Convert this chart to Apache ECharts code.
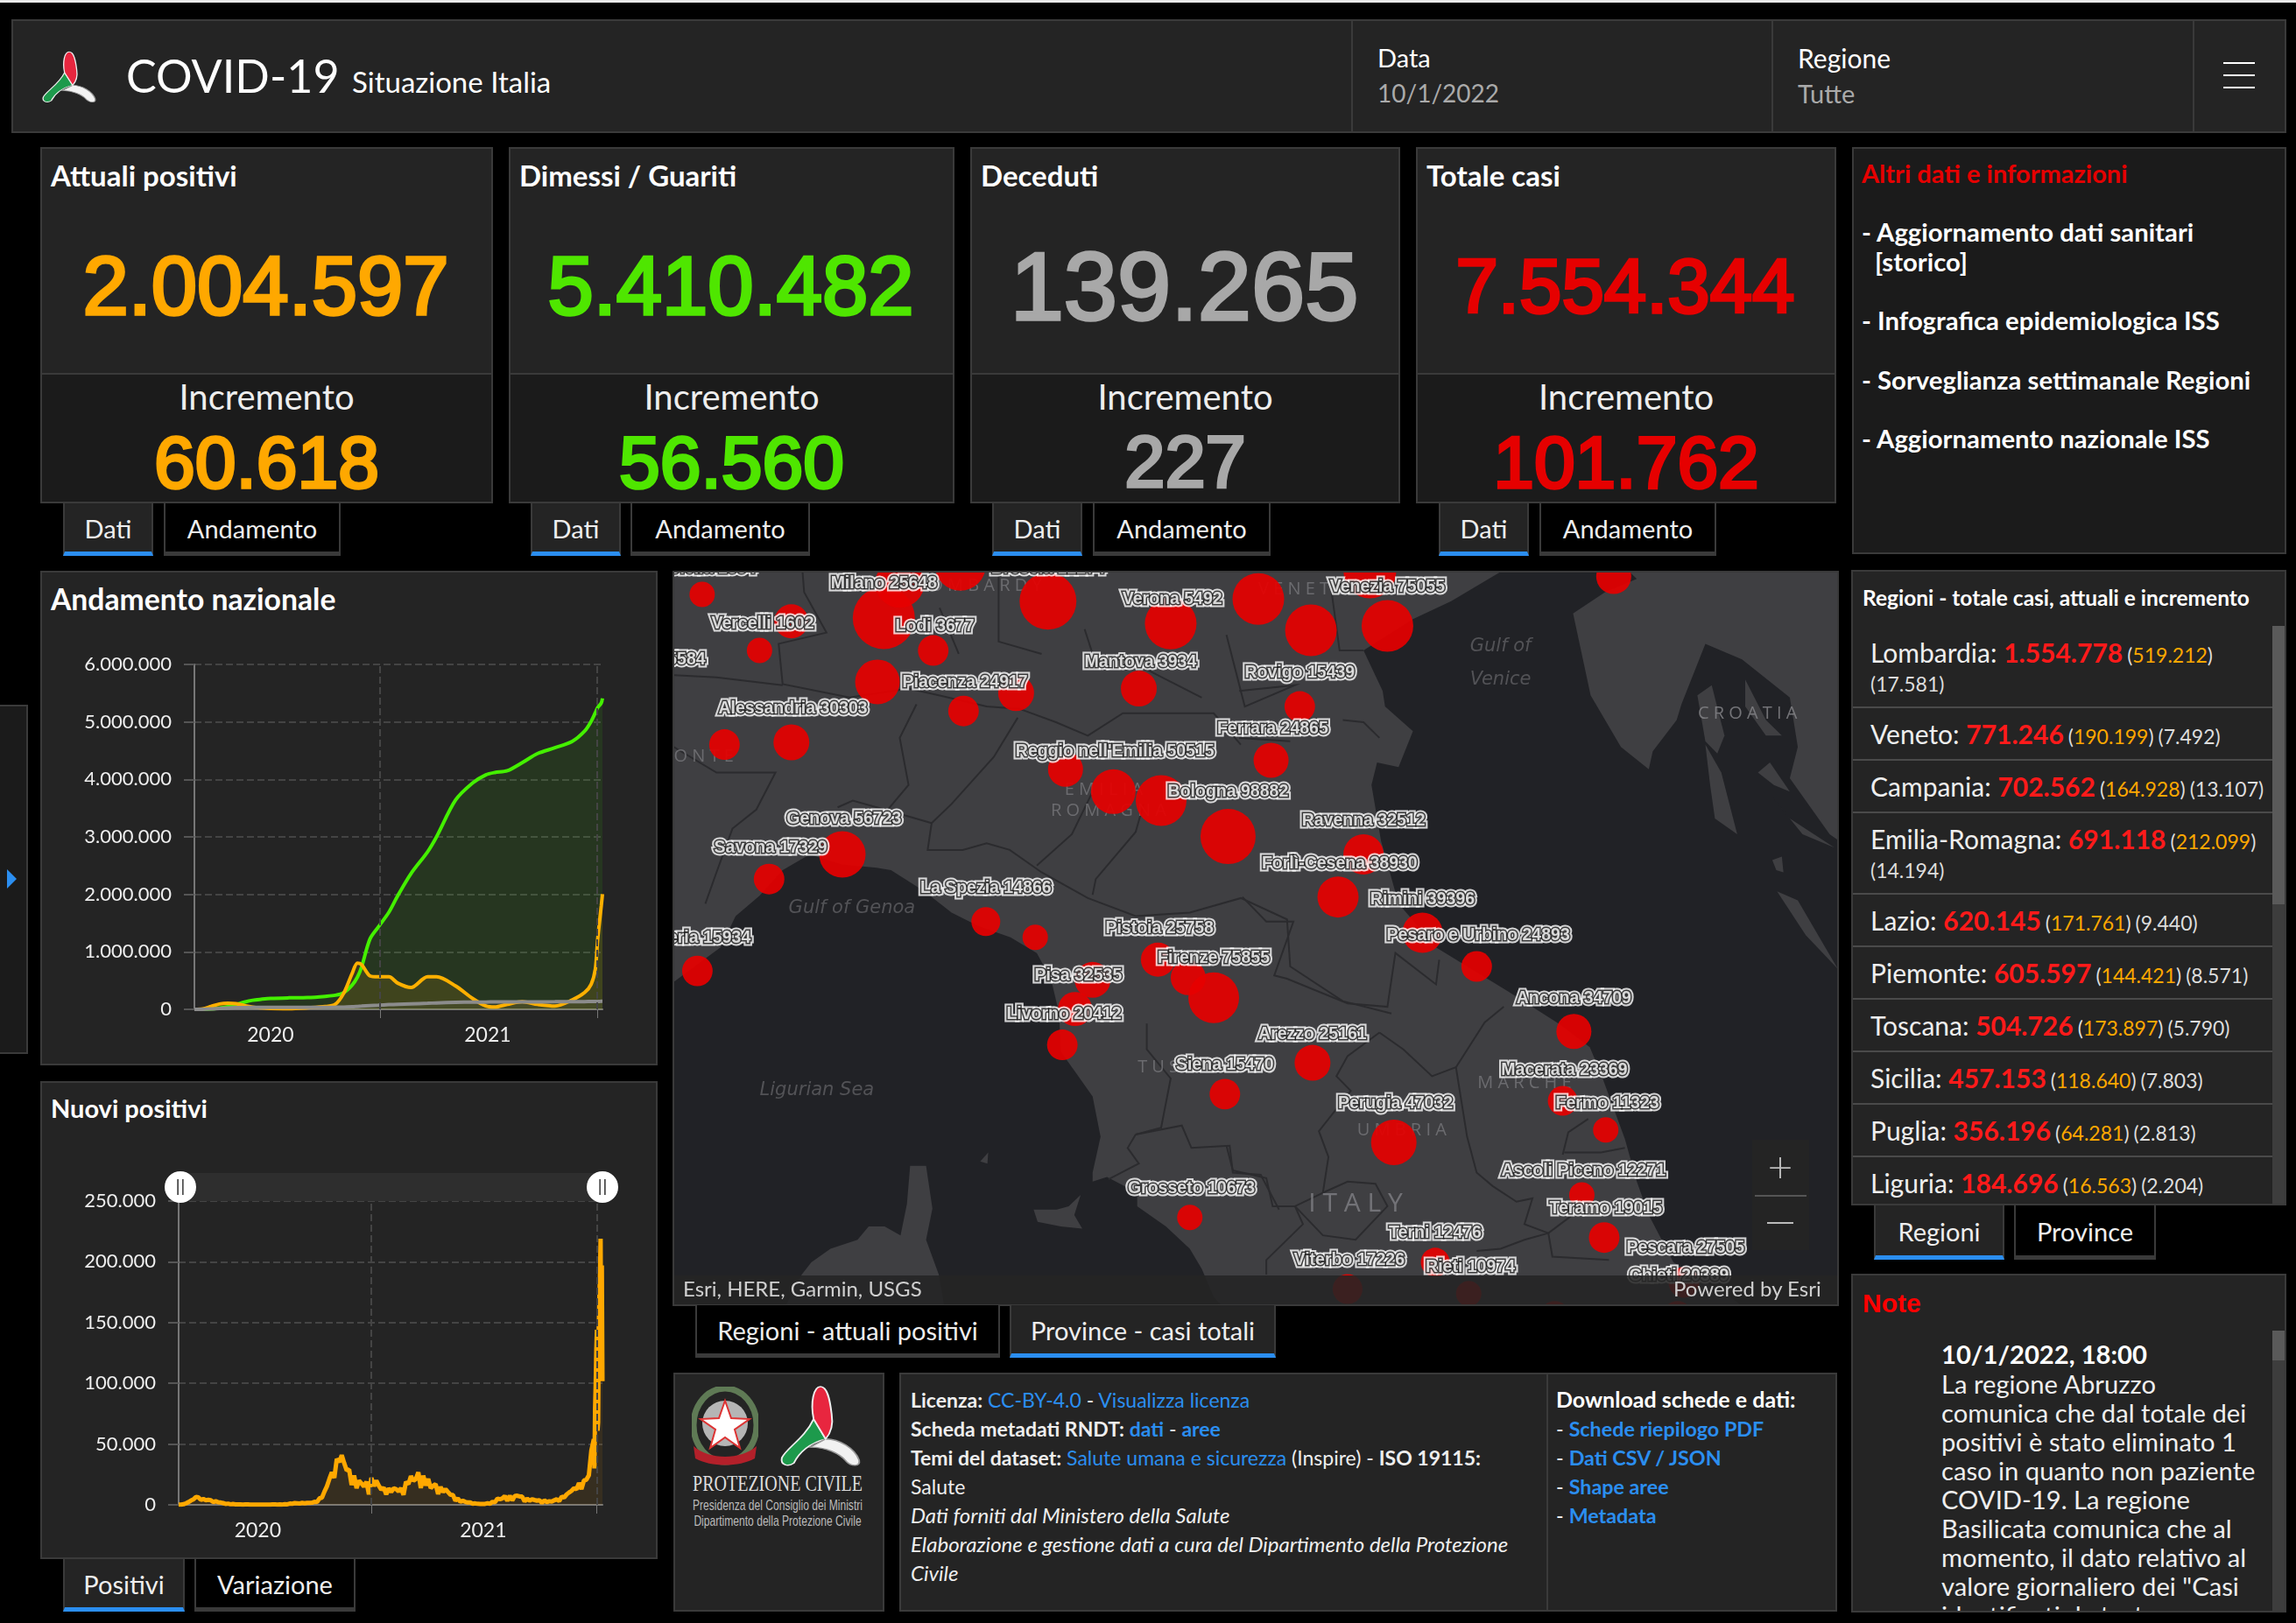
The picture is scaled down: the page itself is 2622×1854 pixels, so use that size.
<!DOCTYPE html>
<html>
<head>
<meta charset="utf-8">
<title>COVID-19 Situazione Italia</title>
<script src="https://cdn.jsdelivr.net/npm/echarts@6/dist/echarts.min.js"></script>
<style>
html, body { margin: 0; background: #000; width: 2622px; height: 1854px; overflow: hidden; font-family: Lato, "Open Sans", sans-serif; color: #fff; }
.box { position: absolute; box-sizing: border-box; background: #242424; border: 2px solid #3a3a3a; }
.dark { background: #1b1b1b; }
.t { position: absolute; white-space: nowrap; }
.chart { position: absolute; }
a { color: #2b8ef0; text-decoration: none; }
</style>
</head>
<body>
<script>
// --- trend charts ---
var trendDates = ['2020-02-24','2020-03-09','2020-03-23','2020-04-06','2020-04-20','2020-05-04','2020-05-18','2020-06-01','2020-06-15','2020-07-01','2020-08-01','2020-09-01','2020-10-01','2020-10-18','2020-11-01','2020-11-15','2020-11-24','2020-12-01','2020-12-15','2020-12-29','2021-01-16','2021-01-31','2021-02-22','2021-03-22','2021-04-06','2021-05-08','2021-06-06','2021-06-28','2021-07-13','2021-08-03','2021-08-28','2021-09-23','2021-10-22','2021-11-20','2021-12-11','2021-12-22','2021-12-29','2022-01-02','2022-01-08','2022-01-10'];
var guariti = [0,700,7400,24000,47000,82000,125000,158000,175000,190000,200000,205000,226000,245000,290000,420000,560000,733000,1220000,1430000,1690000,1980000,2360000,2740000,3000000,3640000,3940000,4080000,4120000,4150000,4290000,4450000,4550000,4660000,4840000,5010000,5160000,5250000,5330000,5410482];
var attualiPositivi = [200,7900,50000,93000,108000,99000,66000,40000,26000,15000,12500,26000,48000,90000,280000,620000,805000,780000,583000,566000,566000,455000,379000,566000,566000,408000,187000,58000,40000,87000,134000,87000,58000,163000,292000,437000,700000,1220000,1800000,2004597];
var deceduti = [0,460,6000,16500,24000,29000,32000,33500,34400,34800,35100,35500,36000,36400,38700,45000,51000,56000,66000,73000,82000,88000,96000,105000,112000,123000,127000,127500,127900,128300,129000,130500,131600,133000,135000,136500,137200,138000,139000,139265];
var newStart = '2020-02-24';
var newValues = [221,250,466,1247,2313,3590,4480,6557,6153,4053,4805,3836,4092,3786,2256,3021,2091,1900,1444,802,992,451,652,397,416,321,197,379,338,251,190,175,187,192,229,114,233,130,275,289,239,401,259,574,403,1071,878,1444,1326,1108,1597,1229,1638,1640,1766,2548,2257,5372,5901,10925,15199,21273,26831,22253,37809,35098,40902,34283,28337,29003,16377,24099,13720,19903,17572,15104,19037,8585,22211,15378,19978,15774,12545,14078,8561,13574,10593,13659,12956,11068,13762,8261,18887,17083,23641,19749,21315,26824,13846,23987,16017,21261,13708,15746,16974,8864,14761,10404,12965,10585,8292,8085,3455,5218,2490,3351,2483,1894,1896,907,1197,835,794,776,808,1394,888,2455,2072,5143,4522,5321,7230,3361,7409,3663,7162,7548,6857,6761,2800,5193,3300,4552,3970,3411,3804,1612,3677,2278,2983,2697,3725,4598,3000,6764,6000,8544,10172,11555,13764,12764,17959,13000,20000,20677,24259,44595];
var lateDates = ['2021-12-27','2021-12-28','2021-12-29','2021-12-30','2021-12-31','2022-01-01','2022-01-02','2022-01-03','2022-01-04','2022-01-05','2022-01-06','2022-01-07','2022-01-08','2022-01-09','2022-01-10'];
var lateValues = [54000,30000,78000,98000,126000,144000,61000,68000,145000,170000,189000,219000,108000,197000,101762];

// --- map: bubbles are lon / lat / cases estimated from the circle area ---
var bubbleLon = [8.05,8.61,8.41,9.19,9.29,9.67,10.22,10.99,11.54,9.50,9.15,10.02,9.69,10.79,8.19,8.61,10.33,10.63,10.93,11.35,11.62,8.93,8.47,9.83,10.14,8.02,10.91,11.10,11.26,10.50,10.39,10.31,11.87,12.35,12.24,13.77,11.80,12.20,12.04,12.57,12.91,13.52,11.88,12.39,13.45,13.72,13.57,13.71,12.65,14.21,12.10,12.86,13.40,14.17,11.33,11.11];
var bubbleLat = [45.57,45.45,45.32,45.465,45.62,45.70,45.54,45.44,45.55,45.32,45.18,45.13,45.05,45.15,44.90,44.91,44.79,44.69,44.65,44.49,44.83,44.41,44.30,44.11,44.04,43.89,43.94,43.86,43.77,43.85,43.72,43.56,45.41,45.43,45.67,45.65,45.07,44.41,44.22,44.06,43.91,43.62,43.48,43.125,43.31,43.18,42.89,42.70,42.59,42.50,42.47,42.45,42.35,42.35,43.34,42.79];
var bubbleCases = [84000,152000,84000,504000,313000,336000,422000,348000,348000,122000,260000,168000,122000,168000,122000,168000,160000,260000,336000,397000,160000,281000,122000,109000,84000,122000,152000,160000,336000,168000,152000,122000,348000,348000,360000,160000,122000,212000,221000,212000,122000,160000,168000,270000,116000,84000,84000,122000,109000,122000,116000,84000,116000,116000,122000,84000];
var labelNames = ['Biella','Brescia','Milano','Verona','Vercelli','Lodi','Novara','Mantova','Piacenza','Alessandria','Reggio nell\'Emilia','Bologna','Ferrara','Genova','Savona','La Spezia','Imperia','Pistoia','Firenze','Pisa','Livorno','Venezia','Rovigo','Ravenna','Forlì-Cesena','Rimini','Pesaro e Urbino','Ancona','Arezzo','Macerata','Fermo','Perugia','Ascoli Piceno','Teramo','Terni','Viterbo','Rieti','Pescara','Chieti','Siena','Grosseto'];
var labelValues = [1354,12274,25648,5492,1602,3677,5584,3934,24917,30303,50515,98882,24865,56723,17329,14866,15934,25758,75855,32535,20412,75055,15439,32512,38930,39396,24893,34709,25161,23369,11323,47032,12271,19015,12476,17226,10974,27505,20389,15470,10673];
var labelLon = [8.11,10.22,9.19,11.00,8.43,9.51,7.755,10.80,9.70,8.62,10.64,11.35,11.63,8.94,8.48,9.83,8.00,10.92,11.26,10.41,10.32,12.35,11.80,12.20,12.05,12.57,12.92,13.52,11.88,13.46,13.73,12.40,13.58,13.72,12.65,12.11,12.87,14.22,14.18,11.33,11.12];
var labelLat = [45.695,45.695,45.63,45.56,45.45,45.44,45.29,45.28,45.19,45.07,44.88,44.70,44.98,44.58,44.45,44.27,44.05,44.09,43.96,43.88,43.71,45.615,45.23,44.57,44.38,44.22,44.06,43.78,43.62,43.46,43.31,43.31,43.01,42.84,42.73,42.61,42.58,42.665,42.54,43.48,42.93];
var placeNames = ['L O M B A R D Y','V E N E T O','P I E M O N T E','E M I L I A','R O M A G N A','C R O A T I A','T U S C A N Y','M A R C H E','U M B R I A','I T A L Y'];
var placeLon = [9.785,11.82,7.875,10.57,10.60,14.61,11.11,13.21,12.44,12.15];
var placeLat = [45.62,45.605,44.86,44.71,44.615,45.05,43.47,43.40,43.19,42.86];
var seaNames = ['Gulf of Genoa','Gulf of','Venice','Ligurian Sea'];
var seaLon = [8.99,13.06,13.06,8.77];
var seaLat = [44.18,45.35,45.20,43.37];

// base map outline
var landShapes = [
  [[7.85,45.69],[13.105,45.69],[12.75,45.54],[12.51,45.46],[12.20,45.32],[12.32,45.14],[12.335,45.07],[12.51,44.96],[12.42,44.80],[12.285,44.82],[12.25,44.72],[12.31,44.47],[12.42,44.19],[12.655,43.995],[13.105,43.80],[13.435,43.65],[13.62,43.55],[13.69,43.43],[13.84,43.14],[13.915,42.95],[13.99,42.80],[14.145,42.59],[14.50,42.435],[14.695,42.33],[11.395,42.33],[11.26,42.435],[11.185,42.56],[11.11,42.65],[10.96,42.75],[10.78,42.84],[10.78,42.90],[10.59,42.97],[10.50,42.95],[10.50,42.99],[10.55,43.15],[10.50,43.33],[10.40,43.43],[10.30,43.53],[10.29,43.70],[10.24,43.85],[10.15,43.97],[9.985,44.04],[9.785,44.09],[9.615,44.15],[9.445,44.245],[9.235,44.34],[9.145,44.35],[8.925,44.365],[8.725,44.41],[8.555,44.34],[8.41,44.225],[8.26,44.135],[8.165,43.995],[7.87,43.84],[7.85,43.835]],
  [[9.355,43.02],[9.455,43.02],[9.495,42.83],[9.455,42.69],[9.535,42.535],[9.575,42.37],[8.555,42.37],[8.675,42.535],[8.735,42.59],[8.855,42.65],[9.025,42.69],[9.095,42.75],[9.195,42.75],[9.295,42.71],[9.335,42.85]],
  [[10.13,42.825],[10.275,42.825],[10.35,42.84],[10.425,42.89],[10.385,42.80],[10.435,42.74],[10.30,42.75],[10.155,42.77]],
  [[9.795,43.04],[9.845,43.08],[9.84,43.03]],
  [[13.84,45.69],[13.915,45.64],[13.715,45.58],[13.515,45.485],[13.625,45.12],[13.815,44.89],[13.99,44.79],[14.015,44.87],[14.165,45.01],[14.195,45.08],[14.345,45.35],[14.575,45.28],[14.875,45.11],[14.925,44.89],[14.875,44.75],[15.125,44.50],[15.215,44.455],[15.215,45.69]],
  [[14.295,45.12],[14.385,45.165],[14.465,44.94],[14.42,44.86],[14.345,44.915]],
  [[14.345,44.90],[14.445,44.775],[14.545,44.50],[14.405,44.57],[14.375,44.72]],
  [[14.595,45.19],[14.725,45.01],[14.825,44.94],[14.725,44.94],[14.595,45.07]],
  [[14.675,44.775],[14.75,44.82],[14.875,44.69],[14.775,44.72]],
  [[14.75,44.68],[14.875,44.57],[15.155,44.44],[14.955,44.50]],
  [[14.765,44.385],[14.825,44.40],[14.835,44.33],[14.79,44.34]],
  [[14.795,44.245],[14.925,44.205],[15.175,43.90],[14.975,44.05]]
];
var borderLines = [
  [[8.68,45.67],[8.69,45.58],[8.83,45.40],[8.53,45.35],[8.555,45.17],[8.975,45.11],[9.345,45.15],[9.535,45.12],[9.835,45.07],[10.04,45.06],[10.27,45.00],[10.47,44.94],[10.69,45.04],[11.26,45.04],[11.43,44.90]],
  [[8.90,44.62],[8.995,44.65],[9.195,44.61],[9.49,44.55],[9.465,44.43],[9.685,44.43],[9.835,44.46],[9.98,44.43],[10.18,44.33],[10.47,44.215],[10.77,44.135],[11.11,44.15],[11.43,44.215],[11.72,44.12],[11.74,43.91],[12.07,43.755],[12.375,43.70]],
  [[9.395,45.08],[9.29,44.93],[9.345,44.72],[9.215,44.61]],
  [[10.03,45.02],[9.88,44.845],[9.615,44.635],[9.49,44.55]],
  [[10.50,44.69],[10.37,44.50],[10.15,44.36]],
  [[10.82,44.635],[10.77,44.51],[10.52,44.30],[10.50,44.23]],
  [[7.87,45.21],[8.14,45.20],[8.555,45.165]],
  [[7.87,44.89],[8.14,44.775],[8.51,44.775],[8.39,44.61],[8.24,44.525],[8.14,44.33],[8.07,44.19]],
  [[12.30,43.615],[12.45,43.54],[12.63,43.42],[12.78,43.46],[12.85,43.15],[12.91,42.99],[13.01,42.93],[13.16,42.86],[13.26,42.875],[13.21,42.76],[13.36,42.72],[13.51,42.80]],
  [[12.30,43.615],[12.10,43.51],[12.03,43.42],[12.12,43.355],[11.92,43.175],[11.98,43.06],[11.945,42.90],[11.77,42.84],[11.82,42.76],[11.59,42.60],[11.59,42.535]],
  [[11.945,42.90],[12.10,42.95],[12.275,42.94],[12.35,42.84],[12.15,42.69],[11.945,42.71],[11.77,42.84]],
  [[11.34,43.11],[11.38,43.00],[11.59,42.965],[11.63,42.84],[11.77,42.84]],
  [[10.77,43.16],[11.06,43.20],[11.12,43.10],[11.36,43.11],[11.38,42.99],[11.555,42.98],[11.67,42.825]],
  [[10.77,43.16],[10.72,43.10],[10.79,43.03],[10.60,42.96]],
  [[10.84,43.655],[10.84,43.54],[10.99,43.41],[10.93,43.19],[10.77,43.16]],
  [[11.44,44.22],[11.59,44.11],[11.76,44.11],[11.64,43.87],[11.72,43.855],[12.10,43.745],[12.35,43.73],[12.40,43.97],[12.655,43.83],[12.675,43.94]],
  [[13.08,43.73],[12.96,43.66],[12.78,43.46]],
  [[11.34,45.39],[11.455,45.07],[11.77,45.165],[11.42,45.14]],
  [[12.05,45.64],[12.0,45.58],[12.05,45.32],[12.20,45.32]],
  [[12.07,45.01],[12.20,45.00],[12.30,44.93]],
  [[11.42,44.93],[11.74,44.915]],
  [[10.45,45.415],[10.50,45.305],[10.84,45.235],[11.185,45.11]],
  [[9.91,45.67],[9.91,45.36],[10.18,45.305]],
  [[9.54,45.51],[9.66,45.305]],
  [[13.36,42.72],[13.385,42.615],[13.74,42.60]],
  [[12.91,42.64],[13.06,42.65],[13.21,42.69],[13.36,42.72]],
  [[13.45,43.07],[13.485,43.17],[13.61,43.23]],
  [[13.46,43.08],[13.69,43.08],[13.84,43.10]]
];

// --- panels text ---
var cardTitles = ['Attuali positivi','Dimessi / Guariti','Deceduti','Totale casi'];
var cardTotals = ['2.004.597','5.410.482','139.265','7.554.344'];
var cardDeltas = ['60.618','56.560','227','101.762'];
var regionNames = ['Lombardia','Veneto','Campania','Emilia-Romagna','Lazio','Piemonte','Toscana','Sicilia','Puglia','Liguria'];
var regionTotals = ['1.554.778','771.246','702.562','691.118','620.145','605.597','504.726','457.153','356.196','184.696'];
var regionActive = ['519.212','190.199','164.928','212.099','171.761','144.421','173.897','118.640','64.281','16.563'];
var regionDelta = ['17.581','7.492','13.107','14.194','9.440','8.571','5.790','7.803','2.813','2.204'];
var infoLinks = ['- Infografica epidemiologica ISS','- Sorveglianza settimanale Regioni','- Aggiornamento nazionale ISS'];
var noteLines = ['La regione Abruzzo','comunica che dal totale dei','positivi è stato eliminato 1','caso in quanto non paziente','COVID-19. La regione','Basilicata comunica che al','momento, il dato relativo al','valore giornaliero dei "Casi','identificati da test'];

var ORANGE = '#ffa800', GREEN = '#4fe600', GRAY = '#a8a8a8', RED = '#e60000', BLUE = '#2b8ef0';
var BORDER = '#3a3a3a';
var ARIAL = '"Liberation Sans", Arial, sans-serif';

function box(x, y, w, h, dark) {
    var d = document.createElement('div');
    d.className = dark ? 'box dark' : 'box';
    d.style.cssText = 'left:' + x + 'px;top:' + y + 'px;width:' + w + 'px;height:' + h + 'px';
    document.body.appendChild(d);
    return d;
}

function rect(x, y, w, h, color) {
    var d = box(x, y, w, h);
    d.style.border = 'none';
    d.style.background = color;
    return d;
}

// y is the vertical centre of the line; opts.center centres the text on x
function txt(x, y, s, size, opts) {
    opts = opts || {};
    var d = document.createElement('div');
    d.className = 't';
    var css = 'top:' + (y - 40) + 'px;height:80px;line-height:80px;font-size:' + size + 'px;';
    if (opts.center) {
        css += 'left:' + (x - 300) + 'px;width:600px;text-align:center;';
    } else {
        css += 'left:' + x + 'px;';
    }
    if (opts.color) css += 'color:' + opts.color + ';';
    if (opts.weight) css += 'font-weight:' + opts.weight + ';';
    if (opts.font) css += 'font-family:' + opts.font + ';';
    if (opts.italic) css += 'font-style:italic;';
    if (opts.stroke) css += '-webkit-text-stroke:' + opts.stroke + 'px ' + opts.color + ';';
    if (opts.squeeze) css += 'transform:scaleX(' + opts.squeeze + ');';
    d.style.cssText = css;
    d.innerHTML = s;
    (opts.parent || document.body).appendChild(d);
    return d;
}

function tab(x, y, w, h, label, active) {
    var d = box(x, y, w, h);
    d.style.borderTop = 'none';
    d.style.background = active ? '#242424' : '#000';
    d.style.borderBottom = '5px solid ' + (active ? BLUE : BORDER);
    txt(x + w / 2, y + h / 2 - 1, label, 29, { center: true, color: '#eee' });
}

function logoMark(x, y, w, h) {
    var s = '<svg style="position:absolute;left:' + x + 'px;top:' + y + 'px" width="' + w + '" height="' + h + '" viewBox="0 0 100 140" preserveAspectRatio="none">' +
        '<path d="M42 58C32 90 10 108 5 124C3 136 12 140 19 133C25 115 38 98 56 92Z" fill="#1d9a4c" stroke="#eee" stroke-width="2"/>' +
        '<path d="M56 92C72 92 90 108 95 128C97 140 86 139 80 130C72 116 56 106 38 106Z" fill="#f2f2f2" stroke="#999" stroke-width="2"/>' +
        '<path d="M50 3C42 3 38 30 42 58L56 92C63 80 65 68 63 50C61 25 58 3 50 3Z" fill="#e8263f" stroke="#eee" stroke-width="2"/>' +
        '</svg>';
    document.body.insertAdjacentHTML('beforeend', s);
}

function buildPage() {
    rect(0, 0, 2622, 3, '#e8e8e8');
    // header
    box(13, 22, 2598, 130);
    rect(1543, 23, 2, 128, BORDER);
    rect(2023, 23, 2, 128, BORDER);
    rect(2504, 23, 2, 128, BORDER);
    logoMark(46, 58, 66, 60);
    txt(144, 86, 'COVID-19', 52);
    txt(402, 93, 'Situazione Italia', 33);
    txt(1573, 66, 'Data', 29);
    txt(1573, 106, '10/1/2022', 28, { color: '#aaa' });
    txt(2053, 66, 'Regione', 30);
    txt(2053, 107, 'Tutte', 29, { color: '#aaa' });
    rect(2539, 71, 36, 2, '#fff');
    rect(2539, 85, 36, 2, '#fff');
    rect(2539, 99, 36, 2, '#fff');

    // number cards
    var cardX = [46, 581, 1108, 1617];
    var cardW = [517, 509, 491, 480];
    var colors = [ORANGE, GREEN, GRAY, RED];
    var totalSize = [94, 94, 110, 87];
    var deltaSize = [84, 84, 83, 84];
    var dati = [[72, 103, 187, 202], [606, 103, 720, 205], [1133, 103, 1248, 203], [1643, 103, 1758, 202]];
    for (var i = 0; i < 4; i++) {
        box(cardX[i], 168, cardW[i], 260);
        box(cardX[i], 426, cardW[i], 149, true);
        var mid = cardX[i] + cardW[i] / 2;
        txt(cardX[i] + 12, 200, cardTitles[i], 33, { weight: 700 });
        txt(mid - 1, 327, cardTotals[i], totalSize[i], { center: true, color: colors[i], font: ARIAL, stroke: 3.5 });
        txt(mid, 453, 'Incremento', 40, { center: true, color: '#eee' });
        txt(mid, 528, cardDeltas[i], deltaSize[i], { center: true, color: colors[i], font: ARIAL, stroke: 3.5 });
        tab(dati[i][0], 575, dati[i][1], 60, 'Dati', true);
        tab(dati[i][2], 575, dati[i][3], 60, 'Andamento', false);
    }

    // info panel
    box(2115, 168, 496, 465, true);
    txt(2126, 198, 'Altri dati e informazioni', 29, { color: RED, weight: 700 });
    txt(2126, 265, '- Aggiornamento dati sanitari', 29.3, { weight: 700 });
    txt(2141, 299, '[storico]', 29.3, { weight: 700 });
    var infoY = [366, 434, 501];
    for (var i = 0; i < infoLinks.length; i++) {
        txt(2126, infoY[i], infoLinks[i], 29.3, { weight: 700 });
    }

    // side handle
    box(-2, 805, 34, 399, true);
    document.body.insertAdjacentHTML('beforeend', '<svg style="position:absolute;left:8px;top:993px" width="12" height="22"><path d="M0 0L11 11L0 22Z" fill="' + BLUE + '"/></svg>');

    // trend panels
    box(46, 652, 705, 565);
    txt(58, 684, 'Andamento nazionale', 33.7, { weight: 700 });
    box(46, 1235, 705, 546);
    txt(58, 1266, 'Nuovi positivi', 29, { weight: 700 });
    tab(72, 1781, 139, 60, 'Positivi', true);
    tab(222, 1781, 184, 60, 'Variazione', false);

    // map panel
    rect(768, 652, 1332, 840, BORDER);
    tab(794, 1491, 348, 60, 'Regioni - attuali positivi', false);
    tab(1153, 1491, 304, 60, 'Province - casi totali', true);

    // region list
    box(2114, 651, 497, 726);
    txt(2127, 683, 'Regioni - totale casi, attuali e incremento', 24.5, { weight: 700 });
    rect(2595, 715, 14, 660, '#3d3d3d');
    rect(2595, 715, 14, 318, '#5a5a5a');
    var sepY = [807, 867, 927, 1020, 1080, 1140, 1200, 1260, 1320];
    for (var i = 0; i < sepY.length; i++) {
        rect(2116, sepY[i], 479, 2, '#4a4a4a');
    }
    var rowY = [745, 838, 898, 958, 1051, 1111, 1171, 1231, 1291, 1351];
    for (var i = 0; i < regionNames.length; i++) {
        var wrapped = i == 0 || i == 3;
        var delta = '<span style="font-size:23px;color:#ddd">(' + regionDelta[i] + ')</span>';
        var line = regionNames[i] + ': <span style="color:#ff1a1a;font-weight:700">' + regionTotals[i] + '</span>' +
            '<span style="font-size:23px;color:#ddd;margin-left:5px">(<span style="color:' + ORANGE + '">' + regionActive[i] + '</span>)</span>' + (wrapped ? '' : '<span style="margin-left:5px">' + delta + '</span>');
        txt(2136, rowY[i], line, 30, { color: '#eee' });
        if (wrapped) txt(2136, rowY[i] + 36, delta, 23);
    }
    tab(2140, 1377, 149, 62, 'Regioni', true);
    tab(2300, 1377, 162, 62, 'Province', false);

    // notes
    box(2114, 1455, 497, 387);
    txt(2127, 1489, 'Note', 30, { color: '#ff0000', font: ARIAL, weight: 700 });
    rect(2595, 1520, 14, 320, '#3d3d3d');
    rect(2595, 1520, 14, 34, '#5a5a5a');
    var clip = document.createElement('div');
    clip.style.cssText = 'position:absolute;left:0;top:0;width:2622px;height:1840px;overflow:hidden;pointer-events:none';
    document.body.appendChild(clip);
    txt(2217, 1547, '10/1/2022, 18:00', 29.2, { weight: 700, parent: clip });
    for (var i = 0; i < noteLines.length; i++) {
        txt(2217, 1581 + i * 33, noteLines[i], 29.2, { color: '#eee', parent: clip });
    }

    // footer
    box(769, 1568, 241, 273);
    logoMark(888, 1582, 98, 94);
    document.body.insertAdjacentHTML('beforeend', '<svg style="position:absolute;left:790px;top:1584px" width="76" height="92" viewBox="0 0 76 92">' +
        '<ellipse cx="38" cy="44" rx="36" ry="42" fill="none" stroke="#5f7a55" stroke-width="7"/>' +
        '<circle cx="38" cy="42" r="26" fill="#b5b5b5"/><path d="M38 16L45 36L66 37L49 49L55 70L38 58L21 70L27 49L10 37L31 36Z" fill="#fff" stroke="#d33" stroke-width="2"/>' +
        '<path d="M2 68C20 84 56 84 74 68L72 82C54 92 22 92 4 82Z" fill="#b3202a"/></svg>');
    txt(888, 1695, 'PROTEZIONE CIVILE', 25, { center: true, color: '#ddd', font: '"Liberation Serif", serif', squeeze: 0.8 });
    txt(888, 1720, 'Presidenza del Consiglio dei Ministri', 17, { center: true, color: '#bbb', font: ARIAL, squeeze: 0.71 });
    txt(888, 1738, 'Dipartimento della Protezione Civile', 17, { center: true, color: '#bbb', font: ARIAL, squeeze: 0.71 });
    box(1027, 1568, 1071, 273);
    rect(1766, 1569, 2, 271, BORDER);
    var fs = 23;
    txt(1040, 1599, '<b>Licenza:</b> <a>CC-BY-4.0</a> - <a>Visualizza licenza</a>', fs, { color: '#eee' });
    txt(1040, 1632, '<b>Scheda metadati RNDT:</b> <a><b>dati</b></a> - <a><b>aree</b></a>', fs, { color: '#eee' });
    txt(1040, 1665, '<b>Temi del dataset:</b> <a>Salute umana e sicurezza</a> (Inspire) - <b>ISO 19115:</b>', fs, { color: '#eee' });
    txt(1040, 1698, 'Salute', fs, { color: '#eee' });
    txt(1040, 1731, 'Dati forniti dal Ministero della Salute', 24, { color: '#eee', italic: true });
    txt(1040, 1764, 'Elaborazione e gestione dati a cura del Dipartimento della Protezione', 24, { color: '#eee', italic: true });
    txt(1040, 1797, 'Civile', 24, { color: '#eee', italic: true });
    txt(1777, 1598, '<b>Download schede e dati:</b>', 25);
    txt(1777, 1632, '- <a><b>Schede riepilogo PDF</b></a>', 23.3);
    txt(1777, 1665, '- <a><b>Dati CSV / JSON</b></a>', 23.3);
    txt(1777, 1698, '- <a><b>Shape aree</b></a>', 23.3);
    txt(1777, 1731, '- <a><b>Metadata</b></a>', 23.3);
}

function addChart(x, y, w, h) {
    var d = document.createElement('div');
    d.className = 'chart';
    d.style.cssText = 'left:' + x + 'px;top:' + y + 'px;width:' + w + 'px;height:' + h + 'px';
    document.body.appendChild(d);
    return echarts.init(d);
}

function dots(v) {
    return String(v).replace(/\B(?=(\d{3})+$)/g, '.');
}

function ms(day) {
    return new Date(day + 'T00:00:00Z').getTime();
}

function zipSeries(dates, values) {
    var out = [];
    for (var i = 0; i < values.length; i++) out.push([ms(dates[i]), values[i]]);
    return out;
}

// dates run on a plain value axis so the year ticks and labels can be placed exactly
function timeAxis() {
    return {
        type: 'value',
        min: ms('2020-02-24'),
        max: ms('2022-01-10'),
        axisLine: { lineStyle: { color: '#777', width: 2 } },
        axisTick: { show: true, length: 10, lineStyle: { color: '#777', width: 1 }, customValues: [ms('2021-01-01'), ms('2022-01-01')] },
        axisLabel: {
            color: '#eee', fontFamily: 'Lato', fontSize: 23, margin: 18,
            customValues: [ms('2020-07-01'), ms('2021-07-01')],
            formatter: function (v) { return String(new Date(v).getFullYear()); }
        },
        splitLine: { show: false }
    };
}

function valueAxis(max, step) {
    return {
        type: 'value',
        min: 0,
        max: max,
        interval: step,
        axisLine: { show: true, lineStyle: { color: '#777', width: 2 } },
        axisTick: { show: true, length: 12, lineStyle: { color: '#555', width: 2 } },
        axisLabel: { color: '#eee', fontFamily: 'Lato', fontSize: 22, margin: 26, padding: [6, 0, 0, 0], formatter: dots },
        splitLine: { lineStyle: { color: '#444', type: 'dashed', width: 2 } }
    };
}

function yearLines() {
    return {
        silent: true,
        symbol: 'none',
        label: { show: false },
        lineStyle: { color: '#444', type: 'dashed', width: 2 },
        data: [{ xAxis: ms('2021-01-01') }, { xAxis: ms('2022-01-01') }]
    };
}

function drawTrend() {
    var c1 = addChart(46, 652, 705, 565);
    c1.setOption({
        animation: false,
        grid: { left: 176, right: 63, top: 107, bottom: 64 },
        xAxis: timeAxis(),
        yAxis: valueAxis(6000000, 1000000),
        series: [
            { name: 'Dimessi / Guariti', type: 'line', data: zipSeries(trendDates, guariti), showSymbol: false, smooth: 0.3, lineStyle: { color: '#44f000', width: 4 }, itemStyle: { color: '#44f000' }, areaStyle: { color: 'rgba(70,255,0,0.12)' }, markLine: yearLines() },
            { name: 'Attuali positivi', type: 'line', data: zipSeries(trendDates, attualiPositivi), showSymbol: false, smooth: 0.3, lineStyle: { color: '#ffb000', width: 4 }, itemStyle: { color: '#ffb000' }, areaStyle: { color: 'rgba(255,176,0,0.16)' } },
            { name: 'Deceduti', type: 'line', data: zipSeries(trendDates, deceduti), showSymbol: false, smooth: 0.3, lineStyle: { color: '#8c8c8c', width: 4 }, itemStyle: { color: '#8c8c8c' }, areaStyle: { color: 'rgba(150,150,150,0.1)' } }
        ]
    });

    var newDates = [];
    for (var i = 0; i < newValues.length; i++) {
        newDates.push(new Date(ms(newStart) + i * 4 * 86400000).toISOString().slice(0, 10));
    }
    var c2 = addChart(46, 1235, 705, 546);
    c2.setOption({
        animation: false,
        grid: { left: 158, right: 63, top: 137, bottom: 62 },
        xAxis: timeAxis(),
        yAxis: valueAxis(250000, 50000),
        dataZoom: [{
            type: 'slider',
            left: 158, right: 63, top: 105, height: 32,
            start: 0, end: 100,
            filterMode: 'none',
            showDetail: false, showDataShadow: false, brushSelect: false,
            moveHandleSize: 0,
            backgroundColor: '#2e2e2e',
            borderColor: 'transparent',
            fillerColor: 'rgba(0,0,0,0)',
            handleIcon: 'path://M50 0A50 50 0 1 1 50 100A50 50 0 1 1 50 0ZM40 25V75H44V25ZM56 25V75H60V25Z',
            handleSize: 36,
            handleStyle: { color: '#fff', borderColor: '#fff', borderWidth: 0 }
        }],
        series: [
            { name: 'Nuovi positivi', type: 'line', data: zipSeries(newDates, newValues).concat(zipSeries(lateDates, lateValues)), showSymbol: false, lineStyle: { color: '#ffa800', width: 5 }, itemStyle: { color: '#ffa800' }, areaStyle: { color: 'rgba(255,168,0,0.12)' }, markLine: yearLines() }
        ]
    });
}

function drawMap() {
    var bubbles = [], labels = [], places = [], seas = [], borders = [], lands = [];
    for (var i = 0; i < bubbleCases.length; i++) bubbles.push([bubbleLon[i], bubbleLat[i], bubbleCases[i]]);
    for (var i = 0; i < labelNames.length; i++) labels.push({ name: labelNames[i] + ' ' + labelValues[i], value: [labelLon[i], labelLat[i]] });
    for (var i = 0; i < placeNames.length; i++) {
        var item = { name: placeNames[i], value: [placeLon[i], placeLat[i]] };
        if (placeNames[i] == 'I T A L Y') item.label = { fontSize: 30, color: '#808084' };
        if (placeNames[i] == 'C R O A T I A') item.label = { color: '#88888c' };
        places.push(item);
    }
    for (var i = 0; i < seaNames.length; i++) seas.push({ name: seaNames[i], value: [seaLon[i], seaLat[i]] });
    for (var i = 0; i < borderLines.length; i++) borders.push({ coords: borderLines[i] });
    for (var i = 0; i < landShapes.length; i++) lands.push([i]);

    var m = addChart(770, 654, 1328, 836);
    m.setOption({
        animation: false,
        backgroundColor: '#212226',
        grid: { left: 0, right: 0, top: 0, bottom: 0 },
        xAxis: { type: 'value', show: false, min: 7.875, max: 15.172 },
        yAxis: { type: 'value', show: false, min: 42.402, max: 45.668 },
        series: [
            {
                type: 'custom', data: lands, silent: true, clip: false, z: 1,
                encode: { x: -1, y: -1 },
                renderItem: function (params, api) {
                    var pts = landShapes[params.dataIndex].map(function (p) { return api.coord(p); });
                    return { type: 'polygon', shape: { points: pts }, style: { fill: '#3f3f42' } };
                }
            },
            {
                type: 'lines', coordinateSystem: 'cartesian2d', polyline: true, data: borders, silent: true, clip: false, z: 2,
                lineStyle: { color: '#2b2b2e', width: 2, opacity: 1 }
            },
            {
                type: 'scatter', data: places, symbolSize: 1, clip: false, silent: true, z: 3,
                itemStyle: { color: 'transparent' },
                label: { show: true, position: 'inside', offset: [0, 3], formatter: '{b}', color: '#77777b', fontFamily: 'Open Sans', fontSize: 20 }
            },
            {
                type: 'scatter', data: seas, symbolSize: 1, clip: false, silent: true, z: 3,
                itemStyle: { color: 'transparent' },
                label: { show: true, position: 'inside', offset: [0, 3], formatter: '{b}', color: '#5f5f63', fontFamily: 'DejaVu Sans', fontStyle: 'italic', fontSize: 21 }
            },
            {
                type: 'scatter', data: bubbles, clip: false, silent: true, z: 4,
                symbolSize: function (v) { return Math.sqrt(v[2]) / 10; },
                itemStyle: { color: '#e60000', opacity: 0.92 }
            },
            {
                type: 'scatter', data: labels, symbolSize: 1, clip: false, silent: true, z: 5,
                itemStyle: { color: 'transparent' },
                label: {
                    show: true, position: 'inside', offset: [0, 3], formatter: '{b}', color: '#fff',
                    fontFamily: 'Liberation Sans', fontWeight: 'bold', fontSize: 19.5,
                    textBorderColor: '#fff', textBorderWidth: 7
                }
            },
            {
                type: 'scatter', data: labels, symbolSize: 1, clip: false, silent: true, z: 6,
                itemStyle: { color: 'transparent' },
                label: {
                    show: true, position: 'inside', offset: [0, 3], formatter: '{b}', color: '#fff',
                    fontFamily: 'Liberation Sans', fontWeight: 'bold', fontSize: 19.5,
                    textBorderColor: '#111', textBorderWidth: 3
                }
            }
        ]
    });

    // attribution strip and zoom buttons sit on the map
    rect(770, 1457, 1328, 33, 'rgba(36,36,36,0.88)');
    txt(780, 1472, 'Esri, HERE, Garmin, USGS', 24, { color: '#cfcfcf' });
    txt(1911, 1472, 'Powered by Esri', 24, { color: '#cfcfcf' });
    rect(2001, 1302, 65, 126, '#242424');
    rect(2004, 1365, 59, 2, '#555');
    txt(2033, 1332, '+', 50, { center: true, color: '#bbb', weight: 300 });
    rect(2018, 1396, 30, 2, '#bbb');
}

window.onload = function () {
    buildPage();
    drawTrend();
    drawMap();
};
</script>
</body>
</html>
